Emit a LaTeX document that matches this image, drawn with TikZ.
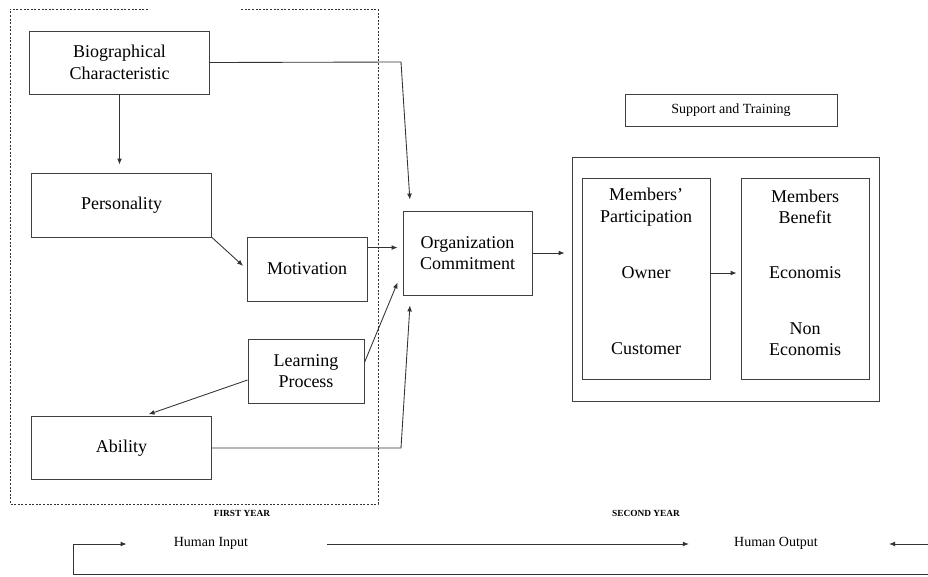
\documentclass[tikz,border=0pt]{standalone}
\usepackage{fontspec}
\setmainfont{Liberation Serif}
\usepackage{tikz}
\usetikzlibrary{arrows.meta}

\tikzset{
  box/.style={draw=black!75, line width=0.65pt, inner sep=0pt, align=center, font=\fontsize{13.5}{16}\selectfont},
  lbl/.style={inner sep=0pt, align=center, font=\fontsize{13.5}{16}\selectfont},
  arr/.style={-{Latex[length=4.5pt,width=3.6pt]}, draw=black!80, line width=0.65pt},
  yearlbl/.style={inner sep=0pt, font=\fontsize{7}{9}\selectfont\bfseries},
  humanlbl/.style={inner sep=0pt, font=\fontsize{10.5}{12}\selectfont}
}

\begin{document}
\begin{tikzpicture}[x=0.75pt,y=0.75pt,yscale=-1,xscale=1]
\useasboundingbox (0,0) rectangle (928,576);

%first year frame
\draw [black!80, line width=0.5pt, dash pattern={on 1.5pt off 1.2pt}] (148,9) -- (10,9) -- (10,504) -- (378,504) -- (378,9) -- (240,9) ;

% Boxes, first year
\node [box, minimum width=135pt, minimum height=47.25pt] (bio) at (119.5,62.5) {Biographical\\Characteristic};
\node [box, minimum width=135pt, minimum height=48pt] (pers) at (121.5,205) {Personality};
\node [box, minimum width=90pt, minimum height=48pt] (mot) at (307,269) {Motivation};
\node [box, minimum width=87pt, minimum height=48pt] (learn) at (306,371) {Learning\\Process};
\node [box, minimum width=135pt, minimum height=47.25pt] (abil) at (121.5,448) {Ability};
\node [box, minimum width=96.75pt, minimum height=63pt] (org) at (467.5,253) {Organization\\Commitment};

% Boxes, second year
\node [box, minimum width=159pt, minimum height=24pt, font=\fontsize{10.5}{12}\selectfont] (supp) at (731,110) {Support and Training};
\node [box, minimum width=230.25pt, minimum height=183pt] (outer) at (725.5,279) {};
\node [box, minimum width=96pt, minimum height=150.75pt] (part) at (646,278.5) {};
\node [box, minimum width=96pt, minimum height=150.75pt] (ben) at (805,278.5) {};

% Text Node
\node [lbl] (parttitle) at (646,207) {Members'\\Participation};
\node [lbl] (owner) at (646,273) {Owner};
\node [lbl] (cust) at (646,349) {Customer};
\node [lbl] (bentitle) at (805,207) {Members\\Benefit};
\node [lbl] (econ) at (805,273) {Economis};
\node [lbl] (nonecon) at (805,339) {Non\\Economis};

% Text Node
\node [yearlbl] (first) at (242,513) {FIRST YEAR};
\node [yearlbl] (second) at (646,513) {SECOND YEAR};
\node [humanlbl] (hin) at (211,543) {Human Input};
\node [humanlbl] (hout) at (776,543) {Human Output};

\coordinate (bioturn) at (401,62);
\coordinate (abilturn) at (401,448);
\coordinate (loopR) at (928,574);
\coordinate (loopL) at (73,574);
\coordinate (rightin) at (928,544);

% Arrows
\draw [arr, shorten >=6pt] (bio.south) -- (bio.south |- pers.north);
\draw [arr, shorten >=3.5pt] (pers.south east) -- (mot.west);
\draw [arr, shorten >=8.25pt] (bio.east) -- (bioturn) -- ([shift={(8,0)}]org.north west);
\draw [arr, shorten >=3.75pt] ([shift={(0,11)}]mot.north east) -- ([shift={(0,11)}]mot.north east -| org.west);
\draw [arr] ([shift={(0,24)}]learn.north east) -- ([shift={(-5,-13)}]org.south west);
\draw [arr, shorten >=4pt] ([shift={(0,9)}]learn.west) -- ([shift={(22,0)}]abil.north);
\draw [arr, shorten >=7.5pt] (abil.east) -- (abilturn) -- ([shift={(8,0)}]org.south west);
\draw [arr, shorten >=5.25pt] (org.east) -- (org.east -| outer.west);
\draw [arr, shorten >=3pt] (owner.east -| part.east) -- (owner.east -| ben.west);

% Human input / output
\draw [arr] ([shift={(79,1)}]hin.east) -- ([shift={(-45,1)}]hout.west);
\draw [arr] (rightin) -- ([shift={(71,1)}]hout.east);
\draw [arr] (loopR) -- (loopL) |- ([shift={(-47,1)}]hin.west);

\end{tikzpicture}
\end{document}
